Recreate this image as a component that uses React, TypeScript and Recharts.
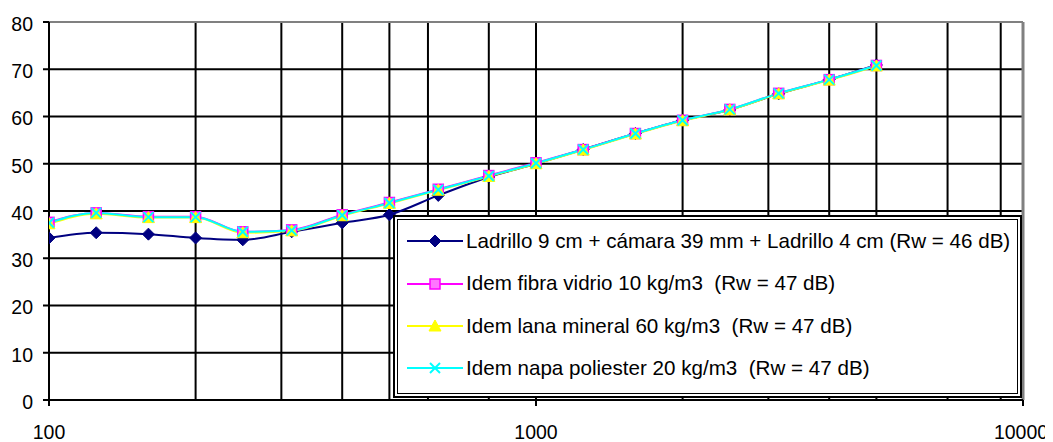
import React from "react";
import {
  LineChart,
  Line,
  XAxis,
  YAxis,
  CartesianGrid,
  ReferenceLine,
  Legend,
} from "recharts";

// Third-octave band centre frequencies (Hz)
const FREQS = [100, 125, 160, 200, 250, 315, 400, 500, 630, 800, 1000, 1250, 1600, 2000, 2500, 3150, 4000, 5000];

// Sound reduction index R (dB) per band
const LADRILLO = [34.3, 35.4, 35.1, 34.3, 33.9, 35.6, 37.5, 39.2, 43.3, 47.2, 50.0, 53.0, 56.4, 59.2, 61.4, 64.8, 67.8, 70.9];
const FIBRA = [37.6, 39.6, 38.8, 38.8, 35.6, 36.0, 39.2, 41.8, 44.6, 47.5, 50.2, 53.0, 56.4, 59.2, 61.5, 64.9, 67.8, 70.8];
const LANA = [37.3, 39.4, 38.6, 38.6, 35.4, 35.8, 39.0, 41.6, 44.4, 47.3, 50.0, 52.9, 56.3, 59.1, 61.4, 64.8, 67.7, 70.7];
const NAPA = [37.5, 39.6, 38.7, 38.7, 35.6, 35.9, 39.1, 41.7, 44.5, 47.4, 50.1, 53.0, 56.4, 59.2, 61.5, 64.9, 67.8, 70.8];

const SERIES_NAMES = [
  "Ladrillo 9 cm + cámara 39 mm + Ladrillo 4 cm (Rw = 46 dB)",
  "Idem fibra vidrio 10 kg/m3  (Rw = 47 dB)",
  "Idem lana mineral 60 kg/m3  (Rw = 47 dB)",
  "Idem napa poliester 20 kg/m3  (Rw = 47 dB)",
];

const X_TICKS = [100, 1000, 10000];
const X_GRID = [200, 300, 400, 500, 600, 700, 800, 900, 1000, 2000, 3000, 4000, 5000, 6000, 7000, 8000, 9000];
const Y_TICKS = [0, 10, 20, 30, 40, 50, 60, 70, 80];
const Y_GRID = [10, 20, 30, 40, 50, 60, 70];

const NAVY = "#000080";
const MAGENTA = "#FF00FF";
const YELLOW = "#FFFF00";
const CYAN = "#00FFFF";
const FONT = '"Liberation Sans", Arial, sans-serif';

const data = FREQS.map((f, i) => ({
  f,
  ladrillo: LADRILLO[i],
  fibra: FIBRA[i],
  lana: LANA[i],
  napa: NAPA[i],
}));

type MarkerKind = "diamond" | "square" | "triangle" | "cross";

function Marker({ kind, cx, cy }: { kind: MarkerKind; cx: number; cy: number }) {
  if (kind === "diamond") {
    return (
      <polygon
        points={`${cx},${cy - 6} ${cx + 6},${cy} ${cx},${cy + 6} ${cx - 6},${cy}`}
        fill={NAVY}
        stroke={NAVY}
        strokeWidth={1}
      />
    );
  }
  if (kind === "square") {
    return <rect x={cx - 5} y={cy - 5} width={10} height={10} fill="#FF77FF" stroke={MAGENTA} strokeWidth={1.5} />;
  }
  if (kind === "triangle") {
    return <polygon points={`${cx},${cy - 6} ${cx + 6},${cy + 5} ${cx - 6},${cy + 5}`} fill={YELLOW} stroke={YELLOW} />;
  }
  return (
    <g stroke={CYAN} strokeWidth={2}>
      <line x1={cx - 5} y1={cy - 5} x2={cx + 5} y2={cy + 5} />
      <line x1={cx - 5} y1={cy + 5} x2={cx + 5} y2={cy - 5} />
    </g>
  );
}

const dotFor = (kind: MarkerKind) => (props: any) => (
  <g key={`${kind}-${props.index}`}>
    <Marker kind={kind} cx={props.cx} cy={props.cy} />
  </g>
);

// Frequency labels; the last one is nudged to stay inside the drawing area
function FreqTick(props: any) {
  const { x, y, payload } = props;
  const shift = payload.value === 10000 ? -2 : 0;
  return (
    <text
      x={x + shift}
      y={y}
      dy="0.71em"
      textAnchor="middle"
      fontFamily={FONT}
      fontSize={19.5}
      fill="#000"
    >
      {payload.value}
    </text>
  );
}

const LEGEND_ITEMS: { name: string; color: string; kind: MarkerKind }[] = [
  { name: SERIES_NAMES[0], color: NAVY, kind: "diamond" },
  { name: SERIES_NAMES[1], color: MAGENTA, kind: "square" },
  { name: SERIES_NAMES[2], color: YELLOW, kind: "triangle" },
  { name: SERIES_NAMES[3], color: CYAN, kind: "cross" },
];

function LegendBox() {
  return (
    <div
      style={{
        boxSizing: "border-box",
        width: "100%",
        height: "100%",
        border: "2px solid #000",
        background: "#fff",
        padding: 2,
      }}
    >
      <div
        style={{
          boxSizing: "border-box",
          height: "100%",
          border: "1.5px solid #000",
          background: "#fff",
          display: "flex",
          flexDirection: "column",
        }}
      >
        {LEGEND_ITEMS.map((it) => (
          <div key={it.name} style={{ height: 42.4, display: "flex", alignItems: "center" }}>
            <svg width={56} height={16} style={{ marginLeft: 9, flex: "none" }}>
              <line x1={0} y1={8} x2={56} y2={8} stroke={it.color} strokeWidth={2} />
              <Marker kind={it.kind} cx={28} cy={8} />
            </svg>
            <span
              style={{
                marginLeft: 3,
                fontFamily: FONT,
                fontSize: 20.6,
                color: "#000",
                whiteSpace: "pre",
                lineHeight: 1,
              }}
            >
              {it.name}
            </span>
          </div>
        ))}
      </div>
    </div>
  );
}

export default function App() {
  const tickStyle = { fontFamily: FONT, fontSize: 19.5, fill: "#000" };
  return (
    <LineChart
      width={1045}
      height={434}
      data={data}
      margin={{ top: 14, right: 30, left: 0, bottom: 2 }}
    >
      <CartesianGrid
        stroke="#000"
        strokeWidth={2}
        horizontalValues={Y_GRID}
        verticalValues={X_GRID}
      />
      <ReferenceLine y={80} stroke="#808080" strokeWidth={2} />
      <ReferenceLine x={10000} stroke="#808080" strokeWidth={3} />
      <XAxis
        dataKey="f"
        type="number"
        scale="log"
        domain={[100, 10000]}
        ticks={X_TICKS}
        allowDataOverflow
        height={40}
        tickSize={6}
        tickMargin={19}
        axisLine={{ stroke: "#000", strokeWidth: 2 }}
        tickLine={{ stroke: "#000", strokeWidth: 2 }}
        tick={<FreqTick />}
      />
      <YAxis
        type="number"
        domain={[0, 80]}
        ticks={Y_TICKS}
        width={41}
        tickSize={6}
        tickMargin={10}
        axisLine={{ stroke: "#000", strokeWidth: 2 }}
        tickLine={{ stroke: "#000", strokeWidth: 2 }}
        tick={{ ...tickStyle, dy: 2 }}
      />
      <Line
        type="monotone"
        dataKey="ladrillo"
        name={SERIES_NAMES[0]}
        stroke={NAVY}
        strokeWidth={2}
        dot={dotFor("diamond")}
        isAnimationActive={false}
      />
      <Line
        type="monotone"
        dataKey="fibra"
        name={SERIES_NAMES[1]}
        stroke={MAGENTA}
        strokeWidth={2}
        dot={dotFor("square")}
        isAnimationActive={false}
      />
      <Line
        type="monotone"
        dataKey="lana"
        name={SERIES_NAMES[2]}
        stroke={YELLOW}
        strokeWidth={2}
        dot={dotFor("triangle")}
        isAnimationActive={false}
      />
      <Line
        type="monotone"
        dataKey="napa"
        name={SERIES_NAMES[3]}
        stroke={CYAN}
        strokeWidth={2}
        dot={dotFor("cross")}
        isAnimationActive={false}
      />
      <Legend
        layout="vertical"
        align="center"
        verticalAlign="middle"
        content={() => <LegendBox />}
        wrapperStyle={{ left: 385, top: 207, width: 629, height: 183, margin: 0 }}
      />
    </LineChart>
  );
}
